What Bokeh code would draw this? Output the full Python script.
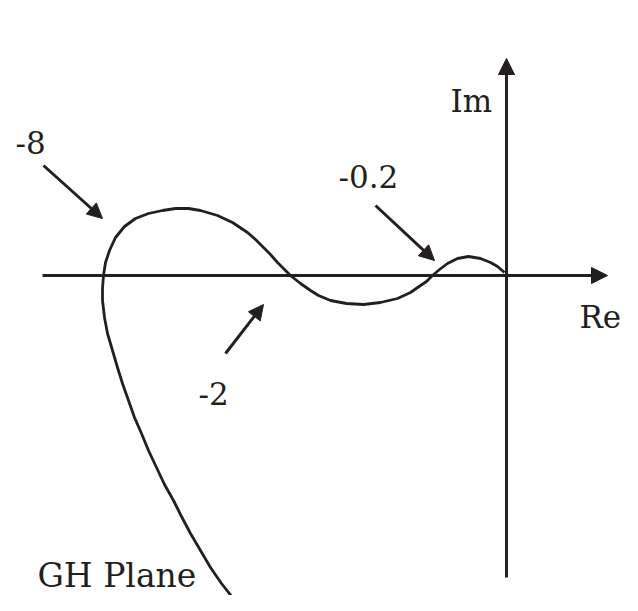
from bokeh.plotting import figure
from bokeh.models import Arrow, NormalHead, Range1d, Label
from bokeh.embed import file_html
from bokeh.resources import INLINE

# Nyquist sketch (GH plane), coordinates in drawing units, origin at axes crossing
curve_re = [-2, -9, -16, -26, -38, -49, -59, -67, -74, -80, -86, -96, -109, -126,
            -143, -160, -176, -188, -196, -206, -216, -223, -229, -236, -243, -251,
            -259, -274, -289, -306, -318, -331, -344, -358, -371, -382, -391, -397,
            -401, -403, -404, -404, -402, -399, -394, -389, -384, -378, -372, -365,
            -358, -350, -342, -333, -325, -316, -306, -296, -285, -274, -263]
curve_im = [3, 9, 13, 17, 19, 17, 12, 6, 0, -6, -10, -17, -23, -27,
            -29, -28, -25, -20, -15, -8, 0, 7, 13, 21, 28, 36,
            43, 53, 60, 65, 67, 67, 65, 62, 57, 49, 38, 25,
            13, 0, -13, -25, -42, -58, -75, -92, -108, -125, -142, -158,
            -175, -192, -209, -225, -241, -258, -275, -292, -308, -322, -336]

# axes extents
re_axis = [-464, 101]
im_axis = [-302, 217]

# annotation labels
labels = ["-8", "-0.2", "-2", "Im", "Re", "GH Plane"]
label_re = [-491, -168, -308, -56, 73, -469]
label_im = [133, 99, -118, 175, -41, -300]
label_size = ["31px", "31px", "31px", "31px", "31px", "33px"]

# pointer arrows (tail -> tip)
ptr_re0 = [-463, -131, -281]
ptr_im0 = [110, 70, -78]
ptr_re1 = [-404, -72, -243]
ptr_im1 = [57, 15, -29]

INK = "#231f20"
FONT = "DejaVu Serif"

W, H = 622, 595
p = figure(width=W, height=H, output_backend="svg", toolbar_location=None,
           x_axis_type=None, y_axis_type=None,
           x_range=Range1d(-506, 116), y_range=Range1d(-320, 275),
           min_border=0, tools="")
p.outline_line_color = None
p.grid.visible = False
p.background_fill_color = "white"
p.border_fill_color = "white"

# real axis with arrow
p.add_layout(Arrow(end=NormalHead(size=16, fill_color=INK, line_color=INK, line_width=1),
                   x_start=re_axis[0], y_start=0, x_end=re_axis[1], y_end=0,
                   line_color=INK, line_width=3))
# imaginary axis with arrow
p.add_layout(Arrow(end=NormalHead(size=16, fill_color=INK, line_color=INK, line_width=1),
                   x_start=0, y_start=im_axis[0], x_end=0, y_end=im_axis[1],
                   line_color=INK, line_width=3))

# Nyquist curve
p.line(curve_re, curve_im, line_color=INK, line_width=2.8, line_join="round")

# pointer arrows
for a, b, c, d in zip(ptr_re0, ptr_im0, ptr_re1, ptr_im1):
    p.add_layout(Arrow(end=NormalHead(size=15, fill_color=INK, line_color=INK, line_width=1),
                       x_start=a, y_start=b, x_end=c, y_end=d,
                       line_color=INK, line_width=3))

for t, x, y, s in zip(labels, label_re, label_im, label_size):
    p.add_layout(Label(x=x, y=y, text=t, text_font=FONT, text_font_size=s,
                       text_color=INK, text_baseline="alphabetic", text_align="left"))

open("out.html", "w").write(file_html(p, INLINE))
